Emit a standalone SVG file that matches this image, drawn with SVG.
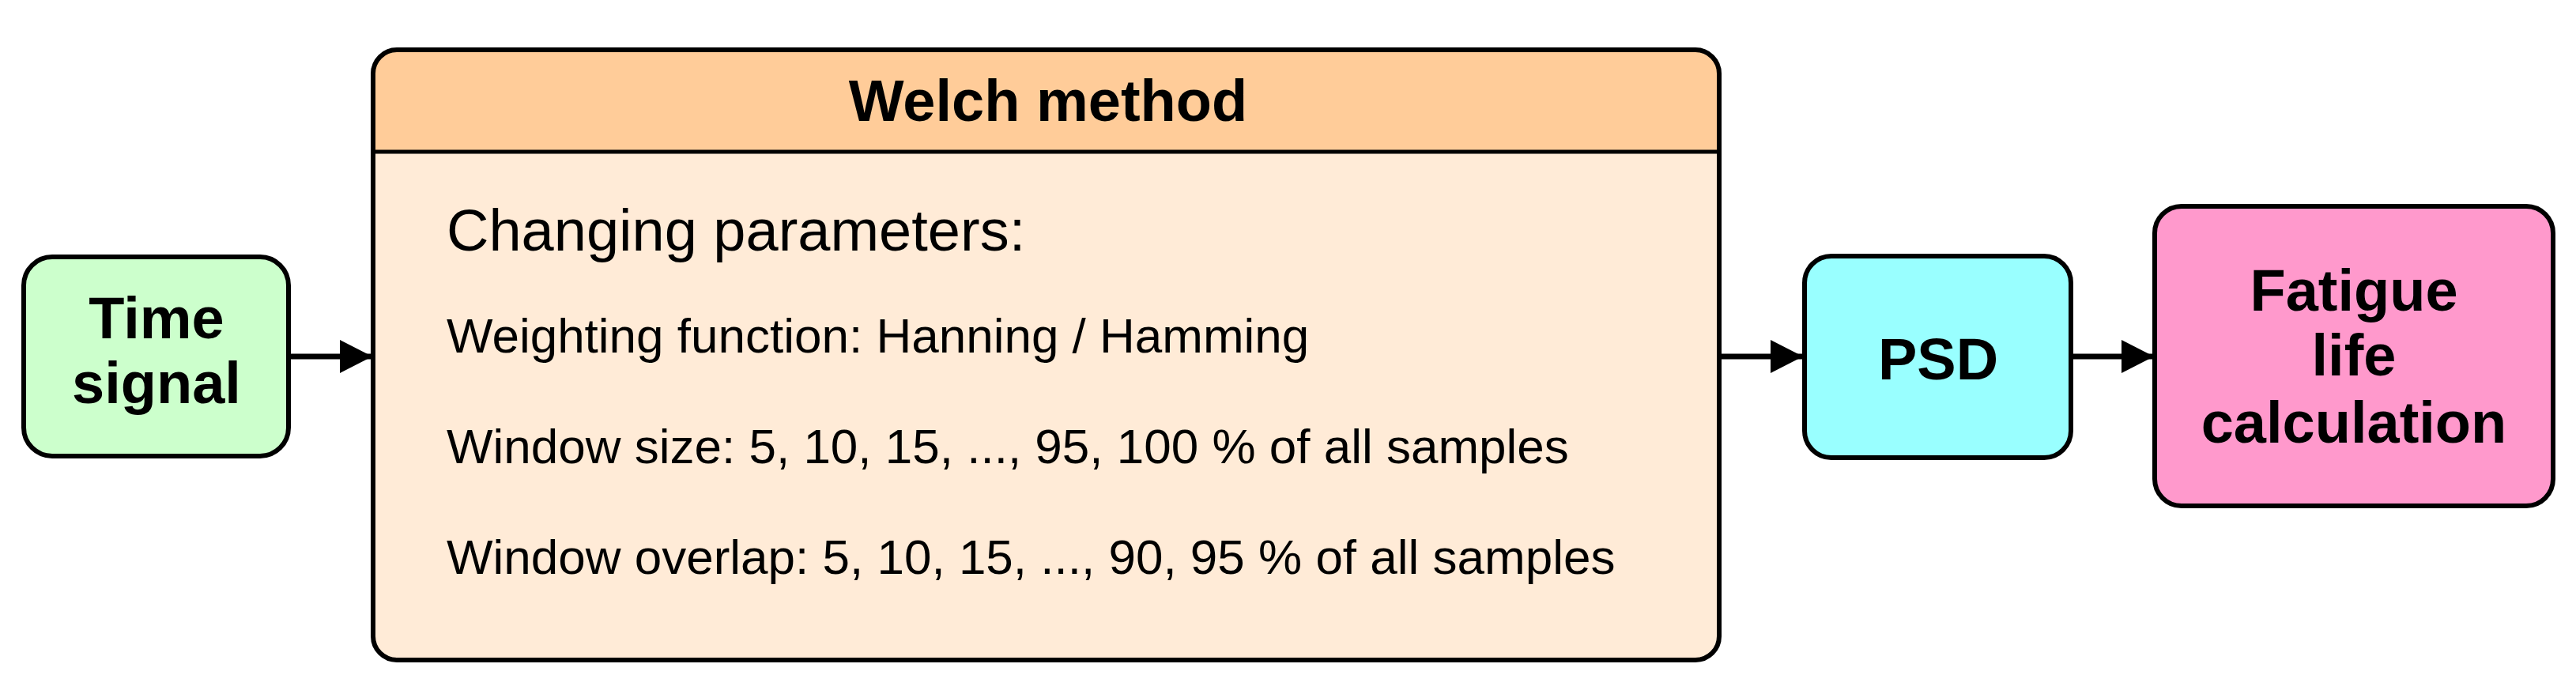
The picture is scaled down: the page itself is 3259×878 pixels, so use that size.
<svg xmlns="http://www.w3.org/2000/svg" width="3259" height="878" viewBox="0 0 3259 878">
  <style>
    .box { stroke: #000; stroke-width: 6; }
    .bold { font-family: "Liberation Sans", Arial, sans-serif; font-weight: bold; font-size: 74px; fill: #000; text-anchor: middle; }
    .reg { font-family: "Liberation Sans", Arial, sans-serif; font-size: 62px; fill: #000; }
    .conn { stroke: #000; stroke-width: 7; fill: none; }
  </style>
  <defs>
    <marker id="arrow" markerUnits="userSpaceOnUse" markerWidth="42" markerHeight="44" refX="40" refY="21" orient="auto">
      <path d="M0,0 L41,21 L0,42 Z" fill="#000"/>
    </marker>
  </defs>
  <rect width="3259" height="878" fill="#fff"/>

  <g id="connectors">
    <line class="conn" x1="366" y1="451" x2="470" y2="451" marker-end="url(#arrow)"/>
    <line class="conn" x1="2176" y1="451" x2="2280" y2="451" marker-end="url(#arrow)"/>
    <line class="conn" x1="2621" y1="451" x2="2724" y2="451" marker-end="url(#arrow)"/>
  </g>

  <g id="time-signal">
    <rect class="box" x="30" y="325" width="335" height="252" rx="36" fill="#ccffcc"/>
    <text class="bold" x="198" y="428">Time</text>
    <text class="bold" x="198" y="510">signal</text>
  </g>

  <g id="welch-method">
    <rect x="472" y="63" width="1703" height="772" rx="30" fill="#ffebd7"/>
    <path d="M472,192 V93 A30,30 0 0 1 502,63 H2145 A30,30 0 0 1 2175,93 V192 Z" fill="#ffcc99"/>
    <line x1="472" y1="192" x2="2175" y2="192" stroke="#000" stroke-width="5"/>
    <rect class="box" x="472" y="63" width="1703" height="772" rx="30" fill="none"/>
    <text class="bold" x="1326" y="153">Welch method</text>
    <text class="reg" x="565" y="317" style="font-size:74px">Changing parameters:</text>
    <text class="reg" x="565" y="446">Weighting function: Hanning / Hamming</text>
    <text class="reg" x="565" y="586">Window size: 5, 10, 15, ..., 95, 100 % of all samples</text>
    <text class="reg" x="565" y="726">Window overlap: 5, 10, 15, ..., 90, 95 % of all samples</text>
  </g>

  <g id="psd">
    <rect class="box" x="2283" y="324" width="337" height="255" rx="34" fill="#99ffff"/>
    <text class="bold" x="2452" y="480">PSD</text>
  </g>

  <g id="fatigue">
    <rect class="box" x="2726" y="261" width="504" height="379" rx="34" fill="#ff99cc"/>
    <text class="bold" x="2978" y="393">Fatigue</text>
    <text class="bold" x="2978" y="475">life</text>
    <text class="bold" x="2978" y="560">calculation</text>
  </g>
</svg>
